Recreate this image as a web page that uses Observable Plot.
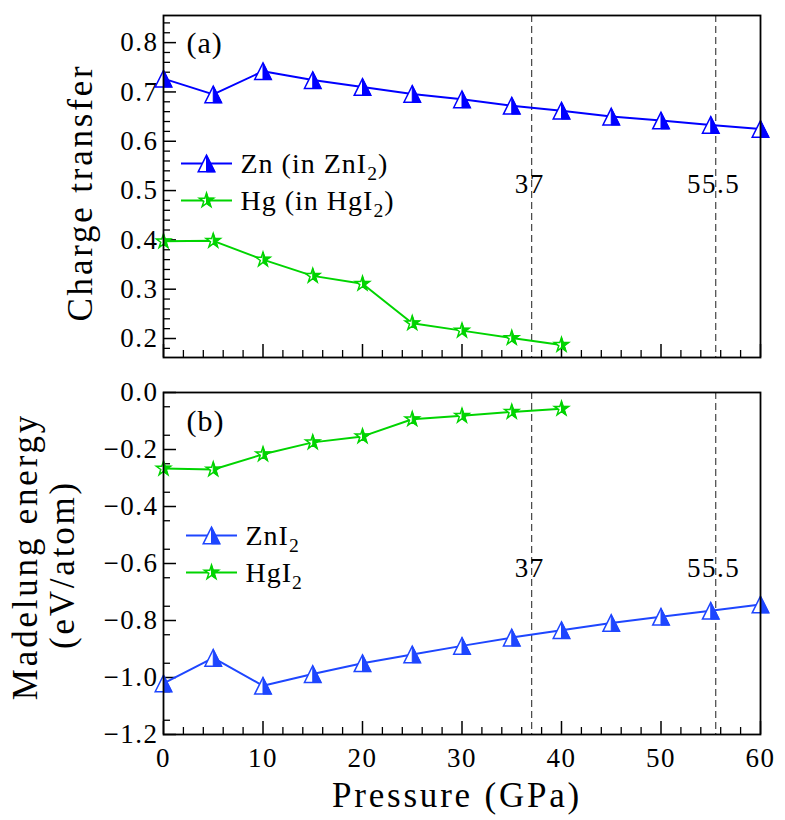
<!DOCTYPE html>
<html><head><meta charset="utf-8">
<script src="https://cdn.jsdelivr.net/npm/d3@7"></script>
<script src="https://cdn.jsdelivr.net/npm/@observablehq/plot@0.6"></script>
<style>
html,body{margin:0;padding:0;background:#fff;}
#chart svg{display:block;}
#chart svg g[font-size="27"]{letter-spacing:1.5px;}
#chart svg g[font-size="28"]{letter-spacing:1px;}
#chart svg g[font-size="30"]{letter-spacing:1px;}
#chart svg g[font-size="35"]{letter-spacing:2.8px;}
</style></head><body><div id="chart"></div>
<script>
// ---- data ----
const pressureZn = [0, 5, 10, 15, 20, 25, 30, 35, 40, 45, 50, 55, 60];
const pressureHg = [0, 5, 10, 15, 20, 25, 30, 35, 40];
const chargeZn = [0.727, 0.695, 0.742, 0.724, 0.710, 0.696, 0.685, 0.672, 0.662, 0.650, 0.642, 0.633, 0.625];
const chargeHg = [0.397, 0.398, 0.360, 0.327, 0.311, 0.231, 0.216, 0.201, 0.187];
const madelungZnI2 = [-1.021, -0.931, -1.029, -0.988, -0.950, -0.919, -0.889, -0.860, -0.834, -0.809, -0.787, -0.766, -0.744];
const madelungHgI2 = [-0.267, -0.270, -0.217, -0.175, -0.154, -0.094, -0.082, -0.068, -0.057];
const transitions = [37, 55.5];
const transitionLabels = ["37", "55.5"];
const xTicks = [0, 10, 20, 30, 40, 50, 60];
const chargeTicks = [0.2, 0.3, 0.4, 0.5, 0.6, 0.7, 0.8];
const madelungTicks = [-1.2, -1.0, -0.8, -0.6, -0.4, -0.2, 0.0];
const legendTop = ["Zn (in ZnI₂)", "Hg (in HgI₂)"];
const legendBottom = ["ZnI₂", "HgI₂"];

// ---- styling ----
const BLUE_TOP = "#0000ff";
const BLUE_BOT = "#1e46ff";
const GREEN = "#00d400";
const FONT = "Liberation Serif";
const TICK_FS = 27, LEG_FS = 28, PANEL_FS = 30, TITLE_FS = 35;
const W = 785, ML = 163, MR = 25, FH = 342;
const FW = W - ML - MR;

const isMajor = (v, step) => Math.abs(Math.round(v / step) * step - v) < 1e-6;
const xMinor = d3.range(0, 61, 2).filter(v => !isMajor(v, 10));
const chargeMinor = d3.range(0.18, 0.85, 0.02).map(v => +v.toFixed(2)).filter(v => !isMajor(v, 0.1));
const madelungMinor = d3.range(-1.15, 0, 0.1).map(v => +v.toFixed(2));

// ---- symbols ----
const rOf = size => Math.sqrt(size / Math.PI);
const triOutline = {draw(c, s) { const r = rOf(s); c.moveTo(0, -r); c.lineTo(r, r); c.lineTo(-r, r); c.closePath(); }};
const triRight = {draw(c, s) { const r = rOf(s); c.moveTo(0, -r); c.lineTo(r, r); c.lineTo(0, r); c.closePath(); }};
function starPath(c, R, half) {
  const ri = R * 0.381966, n = half ? 6 : 10;
  for (let k = 0; k < n; k++) {
    const a = -Math.PI / 2 + k * Math.PI / 5, rr = k % 2 ? ri : R;
    const x = rr * Math.cos(a), y = rr * Math.sin(a);
    if (k === 0) c.moveTo(x, y); else c.lineTo(x, y);
  }
  c.closePath();
}
const starOutline = {draw(c, s) { starPath(c, rOf(s), false); }};
const starRight = {draw(c, s) { starPath(c, rOf(s), true); }};
const legendLine = {draw(c) { c.moveTo(-25.5, 0); c.lineTo(25.5, 0); }};

function seriesMarks(rows, color, outline, right, r) {
  return [
    Plot.line(rows, {x: "p", y: "v", stroke: color, strokeWidth: 2}),
    Plot.dot(rows, {x: "p", y: "v", symbol: outline, r, fill: "white", stroke: color, strokeWidth: 1.5}),
    Plot.dot(rows, {x: "p", y: "v", symbol: right, r, fill: color, stroke: color, strokeWidth: 1})
  ];
}
function label(t, opts) {
  return Plot.text([t], {text: d => d, textAnchor: "middle", lineAnchor: "middle", fontFamily: FONT, ...opts});
}
function legendMarks(items, colors, outlines, rights, rs, dx0, dy0, gap) {
  const m = [];
  items.forEach((t, i) => {
    const dy = dy0 + i * gap;
    m.push(Plot.dot([0], {frameAnchor: "top-left", dx: dx0 + 26, dy, symbol: legendLine, fill: "none", stroke: colors[i], strokeWidth: 2}));
    m.push(Plot.dot([0], {frameAnchor: "top-left", dx: dx0 + 26, dy, symbol: outlines[i], r: rs[i], fill: "white", stroke: colors[i], strokeWidth: 1.5}));
    m.push(Plot.dot([0], {frameAnchor: "top-left", dx: dx0 + 26, dy, symbol: rights[i], r: rs[i], fill: colors[i], stroke: colors[i], strokeWidth: 1}));
    m.push(label(t, {frameAnchor: "top-left", dx: dx0 + 60, dy: dy + 1, textAnchor: "start", fontSize: LEG_FS}));
  });
  return m;
}
function tickMarks(yMajor, yMinor) {
  return [
    Plot.tickY(yMajor, {y: d => d, insetRight: FW - 13, stroke: "black", strokeWidth: 1.5}),
    Plot.tickY(yMinor, {y: d => d, insetRight: FW - 7, stroke: "black", strokeWidth: 1.3}),
    Plot.tickX(xTicks, {x: d => d, insetTop: FH - 13, stroke: "black", strokeWidth: 1.5}),
    Plot.tickX(xMinor, {x: d => d, insetTop: FH - 7, stroke: "black", strokeWidth: 1.3})
  ];
}

const znRows = pressureZn.map((p, i) => ({p, v: chargeZn[i]}));
const hgRows = pressureHg.map((p, i) => ({p, v: chargeHg[i]}));
const znI2Rows = pressureZn.map((p, i) => ({p, v: madelungZnI2[i]}));
const hgI2Rows = pressureHg.map((p, i) => ({p, v: madelungHgI2[i]}));

const common = {
  width: W, marginLeft: ML, marginRight: MR,
  x: {domain: [0, 60], axis: null},
  style: {fontSize: "27px", background: "white", color: "black", overflow: "visible"}
};

const topPlot = Plot.plot({
  ...common,
  height: 375, marginTop: 15, marginBottom: 18,
  y: {domain: [0.1615, 0.855], axis: null},
  marks: [
    Plot.ruleX(transitions, {x: d => d, stroke: "#444", strokeWidth: 1.2, strokeDasharray: "7,4"}),
    Plot.text(transitions, {x: d => d, y: 0.512, text: (d, i) => transitionLabels[i], dx: -2, fontSize: TICK_FS, fontFamily: FONT}),
    ...tickMarks(chargeTicks, chargeMinor),
    Plot.axisY(chargeTicks, {tickSize: 0, tickPadding: 5, tickFormat: d3.format(".1f"), label: null, fontSize: TICK_FS, fontFamily: FONT}),
    ...seriesMarks(znRows, BLUE_TOP, triOutline, triRight, 8.3),
    ...seriesMarks(hgRows, GREEN, starOutline, starRight, 7.5),
    ...legendMarks(legendTop, [BLUE_TOP, GREEN], [triOutline, starOutline], [triRight, starRight], [8.3, 7.5], 17, 148, 37),
    label("(a)", {frameAnchor: "top-left", dx: 23, dy: 28, textAnchor: "start", fontSize: PANEL_FS}),
    label("Charge transfer", {frameAnchor: "left", dx: -83, dy: 6, rotate: -90, fontSize: TITLE_FS}),
    Plot.frame({stroke: "black", strokeWidth: 1.8})
  ]
});

const bottomPlot = Plot.plot({
  ...common,
  height: 445, marginTop: 17, marginBottom: 86,
  y: {domain: [-1.2, 0], axis: null},
  marks: [
    Plot.ruleX(transitions, {x: d => d, stroke: "#444", strokeWidth: 1.2, strokeDasharray: "7,4"}),
    Plot.text(transitions, {x: d => d, y: -0.617, text: (d, i) => transitionLabels[i], dx: -2, fontSize: TICK_FS, fontFamily: FONT}),
    ...tickMarks(madelungTicks, madelungMinor),
    Plot.axisY(madelungTicks, {tickSize: 0, tickPadding: 5, tickFormat: d3.format(".1f"), label: null, fontSize: TICK_FS, fontFamily: FONT}),
    Plot.axisX(xTicks, {tickSize: 0, tickPadding: 13, tickFormat: d => String(d), label: null, fontSize: TICK_FS, fontFamily: FONT}),
    ...seriesMarks(hgI2Rows, GREEN, starOutline, starRight, 7.5),
    ...seriesMarks(znI2Rows, BLUE_BOT, triOutline, triRight, 8.3),
    ...legendMarks(legendBottom, [BLUE_BOT, GREEN], [triOutline, starOutline], [triRight, starRight], [8.3, 7.5], 22, 143, 37),
    label("(b)", {frameAnchor: "top-left", dx: 23, dy: 29, textAnchor: "start", fontSize: PANEL_FS}),
    label("Madelung energy", {frameAnchor: "left", dx: -138, dy: -7, rotate: -90, fontSize: TITLE_FS}),
    label("(eV/atom)", {frameAnchor: "left", dx: -101, dy: 1, rotate: -90, fontSize: TITLE_FS}),
    label("Pressure (GPa)", {frameAnchor: "bottom", dx: -5, dy: 61, fontSize: TITLE_FS}),
    Plot.frame({stroke: "black", strokeWidth: 1.8})
  ]
});

const chart = document.getElementById("chart");
chart.appendChild(topPlot);
chart.appendChild(bottomPlot);

// force the serif face on every text and draw "₂" as a real subscript
const SVGNS = "http://www.w3.org/2000/svg";
chart.querySelectorAll("text").forEach(el => {
  el.style.setProperty("font-family", "'Liberation Serif', serif", "important");
  const s = el.textContent;
  if (!s.includes("₂")) return;
  const fs = parseFloat(el.closest("g[font-size]")?.getAttribute("font-size") || LEG_FS);
  const parts = s.split("₂");
  el.textContent = "";
  parts.forEach((p, i) => {
    if (i > 0) {
      const sub = document.createElementNS(SVGNS, "tspan");
      sub.setAttribute("dy", (0.22 * fs).toFixed(1));
      sub.setAttribute("font-size", (0.7 * fs).toFixed(1));
      sub.textContent = "2";
      el.appendChild(sub);
    }
    if (p) {
      const t = document.createElementNS(SVGNS, "tspan");
      if (i > 0) t.setAttribute("dy", (-0.22 * fs).toFixed(1));
      t.textContent = p;
      el.appendChild(t);
    }
  });
});
</script></body></html>
